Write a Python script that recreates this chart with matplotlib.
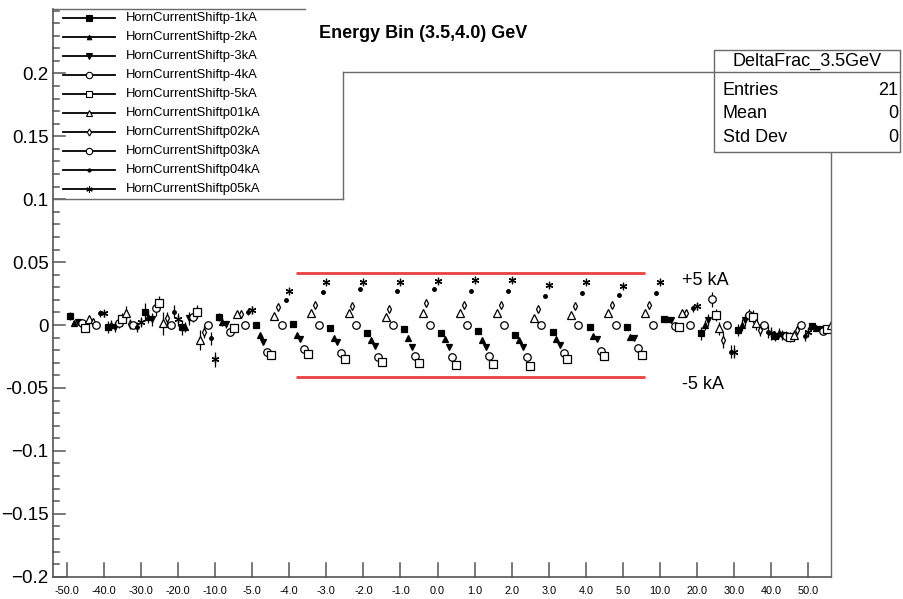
import numpy as np
import matplotlib
matplotlib.use("Agg")
import matplotlib.pyplot as plt
from matplotlib.lines import Line2D
from matplotlib.patches import Rectangle

nan = float("nan")

# ---- data -----------------------------------------------------------------
bin_labels = ["-50.0", "-40.0", "-30.0", "-20.0", "-10.0", "-5.0", "-4.0", "-3.0",
              "-2.0", "-1.0", "0.0", "1.0", "2.0", "3.0", "4.0", "5.0",
              "10.0", "20.0", "30.0", "40.0", "50.0"]

series_names = ["HornCurrentShiftp-1kA", "HornCurrentShiftp-2kA", "HornCurrentShiftp-3kA",
                "HornCurrentShiftp-4kA", "HornCurrentShiftp-5kA", "HornCurrentShiftp01kA",
                "HornCurrentShiftp02kA", "HornCurrentShiftp03kA", "HornCurrentShiftp04kA",
                "HornCurrentShiftp05kA"]

shift_m1 = [0.0072, -0.0014, 0.0106, -0.0018, 0.0066, 0.0000, 0.0008, -0.0026, -0.0061, -0.0032, -0.0061,
            -0.0045, -0.0079, -0.0053, -0.0018, -0.0018, 0.0050, -0.0066, -0.0040, -0.0087, -0.0008]
shift_m2 = [0.0014, 0.0000, 0.0066, -0.0014, 0.0026, -0.0079, -0.0079, -0.0106, -0.0119, -0.0106, -0.0114,
            -0.0119, -0.0119, -0.0114, -0.0087, -0.0093, 0.0047, 0.0000, 0.0000, -0.0066, -0.0026]
shift_m3 = [0.0026, -0.0014, 0.0045, 0.0053, 0.0006, -0.0133, -0.0114, -0.0133, -0.0167, -0.0172, -0.0172,
            -0.0172, -0.0177, -0.0159, -0.0114, -0.0106, 0.0040, 0.0040, 0.0040, -0.0079, -0.0034]
shift_m4 = [0.0018, 0.0014, 0.0133, 0.0066, -0.0053, -0.0212, -0.0193, -0.0225, -0.0257, -0.0246, -0.0257,
            -0.0246, -0.0257, -0.0225, -0.0204, -0.0185, -0.0006, 0.0204, 0.0079, -0.0087, -0.0045]
shift_m5 = [-0.0026, 0.0045, 0.0172, 0.0106, -0.0026, -0.0238, -0.0231, -0.0273, -0.0292, -0.0300, -0.0318,
            -0.0310, -0.0326, -0.0273, -0.0244, -0.0238, -0.0018, 0.0079, 0.0066, -0.0098, -0.0034]
shift_p1 = [0.0045, 0.0098, 0.0014, -0.0119, 0.0085, 0.0072, 0.0098, 0.0098, 0.0066, 0.0098, 0.0093,
            0.0093, 0.0053, 0.0079, 0.0093, 0.0093, 0.0093, -0.0026, 0.0014, -0.0079, 0.0000]
shift_p2 = [0.0026, 0.0008, 0.0053, -0.0053, 0.0085, 0.0145, 0.0157, 0.0151, 0.0125, 0.0177, 0.0159,
            0.0159, 0.0125, 0.0151, 0.0159, 0.0159, 0.0098, -0.0119, -0.0040, -0.0040, nan]
shift_p3 = [0.0, 0.0, 0.0, 0.0, 0.0, 0.0, 0.0, 0.0, 0.0, 0.0, 0.0,
            0.0, 0.0, 0.0, 0.0, 0.0, 0.0, 0.0, 0.0, 0.0, nan]
shift_p4 = [0.0093, -0.0014, 0.0106, -0.0106, 0.0106, 0.0199, 0.0260, 0.0284, 0.0273, 0.0284, 0.0273,
            0.0273, 0.0230, 0.0252, 0.0238, 0.0252, 0.0133, -0.0212, -0.0053, -0.0087, nan]
shift_p5 = [0.0093, 0.0026, 0.0045, -0.0273, 0.0119, 0.0273, 0.0339, 0.0339, 0.0339, 0.0352, 0.0358,
            0.0358, 0.0318, 0.0339, 0.0312, 0.0339, 0.0149, -0.0212, -0.0066, -0.0053, nan]

err_m1 = [0.003, 0.005, 0.007, 0.006, 0.003, 0.0015, 0.0015, 0.0015, 0.0015, 0.0015, 0.0015,
          0.0015, 0.0015, 0.0015, 0.0015, 0.0015, 0.002, 0.005, 0.005, 0.004, 0.002]
err_m2 = [0.002, 0.004, 0.005, 0.004, 0.003, 0.0015, 0.0015, 0.0015, 0.0015, 0.0015, 0.0015,
          0.0015, 0.0015, 0.0015, 0.0015, 0.0015, 0.002, 0.004, 0.005, 0.004, 0.002]
err_m3 = [0.002, 0.004, 0.005, 0.005, 0.003, 0.0015, 0.0015, 0.0015, 0.0015, 0.0015, 0.0015,
          0.0015, 0.0015, 0.0015, 0.0015, 0.0015, 0.002, 0.005, 0.005, 0.004, 0.002]
err_m4 = [0.002, 0.004, 0.006, 0.004, 0.003, 0.0015, 0.0015, 0.0015, 0.0015, 0.0015, 0.0015,
          0.0015, 0.0015, 0.0015, 0.0015, 0.0015, 0.002, 0.006, 0.005, 0.004, 0.002]
err_m5 = [0.002, 0.005, 0.006, 0.005, 0.003, 0.0015, 0.0015, 0.0015, 0.0015, 0.0015, 0.0015,
          0.0015, 0.0015, 0.0015, 0.0015, 0.0015, 0.002, 0.005, 0.005, 0.004, 0.002]
err_p1 = [0.003, 0.005, 0.009, 0.008, 0.003, 0.0015, 0.0015, 0.0015, 0.0015, 0.0015, 0.0015,
          0.0015, 0.0015, 0.0015, 0.0015, 0.0015, 0.002, 0.005, 0.005, 0.004, 0.002]
err_p2 = [0.003, 0.004, 0.005, 0.005, 0.003, 0.0015, 0.0015, 0.0015, 0.0015, 0.0015, 0.0015,
          0.0015, 0.0015, 0.0015, 0.0015, 0.0015, 0.002, 0.006, 0.005, 0.004, nan]
err_p3 = [0.0, 0.0, 0.0, 0.0, 0.0, 0.0, 0.0, 0.0, 0.0, 0.0, 0.0,
          0.0, 0.0, 0.0, 0.0, 0.0, 0.0, 0.0, 0.0, 0.0, nan]
err_p4 = [0.003, 0.004, 0.005, 0.005, 0.003, 0.0015, 0.0015, 0.0015, 0.0015, 0.0015, 0.0015,
          0.0015, 0.0015, 0.0015, 0.0015, 0.0015, 0.003, 0.005, 0.005, 0.004, nan]
err_p5 = [0.003, 0.004, 0.005, 0.006, 0.003, 0.0015, 0.0015, 0.0015, 0.0015, 0.0015, 0.0015,
          0.0015, 0.0015, 0.0015, 0.0015, 0.0015, 0.003, 0.005, 0.005, 0.004, nan]

band_limits = [-0.041, 0.041]        # +/- 5 kA envelope
band_span = [6.18, 15.6]             # x extent of the envelope (bin units)

stats_title = "DeltaFrac_3.5GeV"
stats_rows = [("Entries", "21"), ("Mean", "0"), ("Std Dev", "0")]

values = [shift_m1, shift_m2, shift_m3, shift_m4, shift_m5,
          shift_p1, shift_p2, shift_p3, shift_p4, shift_p5]
errors = [err_m1, err_m2, err_m3, err_m4, err_m5,
          err_p1, err_p2, err_p3, err_p4, err_p5]

# ---- marker styles (ROOT-like) ---------------------------------------------
styles = [
    dict(marker="s", ms=5.0, mfc="black"),
    dict(marker="^", ms=3.8, mfc="black"),
    dict(marker="v", ms=4.4, mfc="black"),
    dict(marker="o", ms=5.4, mfc="white"),
    dict(marker="s", ms=5.2, mfc="white"),
    dict(marker="^", ms=5.6, mfc="white"),
    dict(marker="d", ms=4.2, mfc="white"),
    dict(marker="o", ms=5.4, mfc="white"),
    dict(marker="o", ms=2.6, mfc="black"),
    dict(marker=(6, 2, 0), ms=5.4, mfc="black"),
]

plt.rcParams["font.family"] = ["Liberation Sans", "DejaVu Sans"]

W, H = 904, 599
fig = plt.figure(figsize=(W / 100, H / 100), dpi=100)
fig.patch.set_facecolor("white")

X_LEFT, X_RIGHT, Y_TOP, Y_BOT = 52.7, 831.0, 9.0, 576.7
ax = fig.add_axes([X_LEFT / W, 1 - Y_BOT / H, (X_RIGHT - X_LEFT) / W, (Y_BOT - Y_TOP) / H])
ax.set_xlim(-0.378, 20.61)
ax.set_ylim(-0.2, 0.2512)

axis_col = "#555555"
for side in ("top", "right"):
    ax.spines[side].set_visible(False)
for side in ("left", "bottom"):
    ax.spines[side].set_color(axis_col)
    ax.spines[side].set_linewidth(1.2)

# points: ten sub-bins per labelled bin
nbins = len(bin_labels)
for k, (vals, errs, st) in enumerate(zip(values, errors, styles)):
    x = np.arange(nbins) + (k + 1) * 0.1
    ax.errorbar(x, vals, yerr=errs, fmt="none", ecolor="black", elinewidth=0.9,
                capsize=0, zorder=3)
    ax.plot(x, vals, linestyle="none", marker=st["marker"], markersize=st["ms"],
            markerfacecolor=st["mfc"], markeredgecolor="black", markeredgewidth=0.9,
            zorder=4)

# +/- 5 kA envelope
for yv in band_limits:
    ax.plot(band_span, [yv, yv], color="#e8413f", lw=2.0, solid_capstyle="butt", zorder=2)
ax.text(16.6, 0.0355, "+5 kA", fontsize=13, ha="left", va="center")
ax.text(16.6, -0.0475, "-5 kA", fontsize=13, ha="left", va="center")

# tick labels
xticks = list(range(nbins))
ax.set_xticks(xticks)
ax.set_xticklabels(bin_labels, fontsize=7.8)
ax.tick_params(axis="x", which="major", direction="in", length=0, pad=7)

ymajor = [-0.2, -0.15, -0.1, -0.05, 0.0, 0.05, 0.1, 0.15, 0.2]
ylabels = ["\u22120.2", "\u22120.15", "\u22120.1", "-0.05", "0", "0.05", "0.1", "0.15", "0.2"]
yminor = [round(-0.2 + 0.01 * n, 2) for n in range(46)]
ax.set_yticks(ymajor)
ax.set_yticklabels(ylabels, fontsize=13.5)
ax.tick_params(axis="y", which="major", direction="in", length=0, pad=3)

# inward tick marks drawn in blended (data, axes-fraction) coordinates
ax_w = X_RIGHT - X_LEFT
ax_h = Y_BOT - Y_TOP
xt = ax.get_xaxis_transform()
yt = ax.get_yaxis_transform()
for xv in xticks:
    ax.add_line(Line2D([xv, xv], [0, 14 / ax_h], transform=xt, color=axis_col,
                       lw=1.1, clip_on=False, zorder=5))
for yv in yminor:
    major = any(abs(yv - m) < 1e-9 for m in ymajor)
    length = (12 if major else 6.5) / ax_w
    ax.add_line(Line2D([0, length], [yv, yv], transform=yt, color=axis_col,
                       lw=1.1, clip_on=False, zorder=5))


def fline(x0, y0, x1, y1, col="#6a6a6a", lw=1.0, z=10):
    fig.add_artist(Line2D([x0 / W, x1 / W], [1 - y0 / H, 1 - y1 / H],
                          transform=fig.transFigure, color=col, lw=lw, zorder=z))


# frame pieces and legend box outline
fline(X_RIGHT, 152, X_RIGHT, Y_BOT)
fline(X_LEFT, Y_TOP, 305, Y_TOP)
fline(343, 72, 714, 72)
fline(343, 72, 343, 199)
fline(X_LEFT, 199, 343, 199)

# legend entries
for k, (name, st) in enumerate(zip(series_names, styles)):
    yy = 18.3 + 19.0 * k
    fline(63, yy, 115, yy, col="black", lw=1.3, z=11)
    fig.add_artist(Line2D([89 / W], [1 - yy / H], transform=fig.transFigure,
                          linestyle="none", marker=st["marker"], markersize=st["ms"] * 0.85,
                          markerfacecolor=st["mfc"], markeredgecolor="black",
                          markeredgewidth=0.8, zorder=12))
    fig.text(126 / W, 1 - yy / H, name, fontsize=9.4, ha="left", va="center")

# title
fig.text(423 / W, 1 - 33 / H, "Energy Bin (3.5,4.0) GeV", fontsize=13, fontweight="bold",
         ha="center", va="center")

# statistics box
fig.add_artist(Rectangle((714 / W, 1 - 152 / H), (900 - 714) / W, (152 - 50) / H,
                         transform=fig.transFigure, facecolor="white",
                         edgecolor="#6a6a6a", lw=1.0, zorder=13))
fline(714, 72, 900, 72, z=14)
fig.text(807 / W, 1 - 61 / H, stats_title, fontsize=13, ha="center", va="center", zorder=15)
for r, (lab, val) in enumerate(stats_rows):
    yy = 90 + 24 * r
    fig.text(723 / W, 1 - yy / H, lab, fontsize=13, ha="left", va="center", zorder=15)
    fig.text(898 / W, 1 - yy / H, val, fontsize=13, ha="right", va="center", zorder=15)

fig.savefig("out.png", dpi=100, facecolor="white")
